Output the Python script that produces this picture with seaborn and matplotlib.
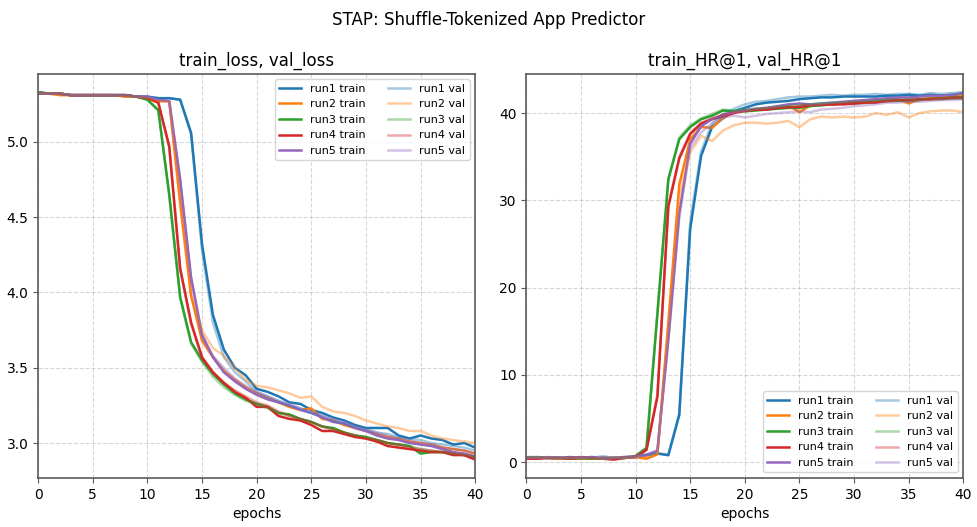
#
#------------------------------------------------------------------------#
# Import required modules
import numpy as np
import pandas as pd
import seaborn as sns
import matplotlib
matplotlib.use("Agg")
import matplotlib.pyplot as plt
#
#------------------------------------------------------------------------#
# Data
epochs = list(range(41))
runNames = ["run1", "run2", "run3", "run4", "run5"]
#
run1TrainLoss = [5.33, 5.32, 5.32, 5.31, 5.31, 5.31, 5.31, 5.31, 5.31, 5.30,
                 5.30, 5.29, 5.29, 5.28, 5.06, 4.32, 3.85, 3.62, 3.50, 3.45,
                 3.36, 3.34, 3.31, 3.27, 3.26, 3.22, 3.20, 3.17, 3.15, 3.12,
                 3.10, 3.10, 3.10, 3.05, 3.03, 3.05, 3.03, 3.02, 2.99, 3.00, 2.97]
run2TrainLoss = [5.32, 5.32, 5.31, 5.31, 5.31, 5.31, 5.31, 5.31, 5.30, 5.30,
                 5.29, 5.27, 5.27, 4.60, 3.98, 3.68, 3.57, 3.48, 3.42, 3.37,
                 3.33, 3.30, 3.27, 3.24, 3.22, 3.23, 3.16, 3.15, 3.12, 3.10,
                 3.08, 3.06, 3.04, 3.03, 3.01, 3.00, 2.99, 2.97, 2.96, 2.95, 2.93]
run3TrainLoss = [5.33, 5.32, 5.32, 5.31, 5.31, 5.31, 5.31, 5.31, 5.31, 5.30,
                 5.28, 5.21, 4.65, 3.97, 3.67, 3.55, 3.46, 3.39, 3.33, 3.29,
                 3.26, 3.24, 3.20, 3.19, 3.16, 3.14, 3.11, 3.10, 3.07, 3.05,
                 3.04, 3.02, 3.00, 2.99, 2.98, 2.93, 2.94, 2.94, 2.93, 2.92, 2.90]
run4TrainLoss = [5.32, 5.32, 5.32, 5.31, 5.31, 5.31, 5.31, 5.31, 5.31, 5.30,
                 5.29, 5.26, 4.97, 4.16, 3.80, 3.57, 3.47, 3.40, 3.34, 3.30,
                 3.24, 3.24, 3.18, 3.16, 3.15, 3.12, 3.08, 3.08, 3.06, 3.04,
                 3.03, 3.01, 2.98, 2.97, 2.96, 2.95, 2.94, 2.94, 2.92, 2.92, 2.89]
run5TrainLoss = [5.32, 5.32, 5.32, 5.31, 5.31, 5.31, 5.31, 5.31, 5.31, 5.30,
                 5.30, 5.28, 5.27, 4.75, 4.10, 3.72, 3.57, 3.47, 3.41, 3.36,
                 3.32, 3.29, 3.27, 3.25, 3.22, 3.20, 3.17, 3.14, 3.13, 3.10,
                 3.08, 3.05, 3.03, 3.02, 3.00, 2.99, 2.98, 2.96, 2.94, 2.93, 2.91]
#
run1ValLoss = [5.32, 5.32, 5.32, 5.31, 5.31, 5.31, 5.31, 5.31, 5.31, 5.30,
               5.30, 5.29, 5.29, 5.28, 5.05, 4.28, 3.80, 3.57, 3.47, 3.41,
               3.34, 3.31, 3.28, 3.25, 3.23, 3.20, 3.18, 3.15, 3.13, 3.11,
               3.09, 3.07, 3.06, 3.04, 3.03, 3.02, 3.00, 2.99, 2.98, 2.97, 2.95]
run2ValLoss = [5.32, 5.32, 5.32, 5.31, 5.31, 5.31, 5.31, 5.31, 5.30, 5.30,
               5.29, 5.27, 5.27, 4.58, 3.97, 3.75, 3.63, 3.58, 3.50, 3.42,
               3.38, 3.37, 3.35, 3.33, 3.30, 3.31, 3.24, 3.21, 3.20, 3.18,
               3.15, 3.13, 3.11, 3.10, 3.08, 3.08, 3.05, 3.03, 3.02, 3.01, 3.00]
run3ValLoss = [5.32, 5.32, 5.32, 5.31, 5.31, 5.31, 5.31, 5.31, 5.31, 5.30,
               5.28, 5.21, 4.64, 3.96, 3.66, 3.54, 3.44, 3.37, 3.32, 3.28,
               3.26, 3.23, 3.20, 3.18, 3.16, 3.14, 3.11, 3.09, 3.07, 3.05,
               3.04, 3.02, 3.00, 2.99, 2.98, 2.96, 2.95, 2.94, 2.93, 2.92, 2.91]
run4ValLoss = [5.32, 5.32, 5.32, 5.31, 5.31, 5.31, 5.31, 5.31, 5.31, 5.30,
               5.29, 5.26, 4.96, 4.15, 3.79, 3.56, 3.47, 3.40, 3.35, 3.31,
               3.27, 3.25, 3.21, 3.18, 3.16, 3.14, 3.11, 3.09, 3.07, 3.05,
               3.03, 3.02, 3.00, 2.99, 2.97, 2.96, 2.95, 2.94, 2.93, 2.92, 2.91]
run5ValLoss = [5.32, 5.32, 5.32, 5.31, 5.31, 5.31, 5.31, 5.31, 5.31, 5.30,
               5.30, 5.28, 5.27, 4.74, 4.08, 3.70, 3.58, 3.50, 3.43, 3.38,
               3.34, 3.31, 3.28, 3.26, 3.23, 3.21, 3.18, 3.16, 3.14, 3.11,
               3.09, 3.07, 3.05, 3.03, 3.02, 3.00, 2.99, 2.97, 2.96, 2.95, 2.93]
#
run1TrainHR = [0.5, 0.5, 0.5, 0.4, 0.4, 0.5, 0.4, 0.5, 0.5, 0.5,
               0.6, 0.8, 1.0, 0.8, 5.4, 26.7, 35.1, 38.4, 39.4, 40.2,
               40.6, 41.0, 41.2, 41.3, 41.4, 41.6, 41.7, 41.8, 41.8, 41.9,
               41.9, 41.9, 41.9, 42.0, 42.0, 42.1, 42.0, 42.1, 42.0, 42.1, 42.0]
run2TrainHR = [0.4, 0.5, 0.5, 0.4, 0.5, 0.4, 0.5, 0.4, 0.5, 0.5,
               0.6, 0.4, 0.9, 16.0, 31.8, 37.0, 38.4, 38.3, 39.5, 40.1,
               40.3, 40.4, 40.5, 40.6, 40.9, 40.1, 40.9, 41.0, 41.0, 41.1,
               41.2, 41.3, 41.4, 41.5, 41.6, 41.1, 41.6, 41.7, 41.8, 41.8, 42.0]
run3TrainHR = [0.5, 0.5, 0.5, 0.5, 0.4, 0.5, 0.4, 0.5, 0.4, 0.5,
               0.7, 1.6, 17.0, 32.4, 37.0, 38.4, 39.3, 39.7, 40.3, 40.2,
               40.2, 40.3, 40.4, 40.5, 40.6, 40.6, 40.8, 40.9, 41.0, 41.1,
               41.1, 41.2, 41.3, 41.4, 41.4, 41.4, 41.5, 41.6, 41.6, 41.7, 41.7]
run4TrainHR = [0.4, 0.4, 0.5, 0.5, 0.4, 0.5, 0.5, 0.4, 0.3, 0.5,
               0.6, 1.4, 7.5, 29.3, 34.8, 37.6, 38.8, 39.3, 39.6, 40.0,
               40.3, 40.4, 40.4, 40.6, 40.7, 40.7, 40.9, 41.0, 41.0, 41.0,
               41.1, 41.2, 41.2, 41.4, 41.5, 41.5, 41.6, 41.6, 41.7, 41.8, 41.8]
run5TrainHR = [0.5, 0.5, 0.5, 0.5, 0.6, 0.5, 0.6, 0.4, 0.5, 0.5,
               0.6, 0.8, 1.3, 14.0, 28.5, 36.5, 38.5, 39.3, 39.8, 40.1,
               40.3, 40.5, 40.6, 40.8, 41.0, 41.1, 41.0, 41.1, 41.2, 41.3,
               41.4, 41.5, 41.6, 41.7, 41.8, 41.8, 41.9, 42.0, 42.0, 42.1, 42.3]
#
run1ValHR = [0.6, 0.6, 0.5, 0.5, 0.5, 0.6, 0.5, 0.7, 0.5, 0.6,
             0.7, 0.9, 1.0, 0.9, 5.6, 27.5, 35.6, 38.8, 39.9, 40.5,
             41.0, 41.3, 41.4, 41.6, 41.8, 41.9, 41.9, 42.0, 42.1, 42.0,
             42.1, 42.1, 42.2, 42.1, 42.2, 42.2, 42.1, 42.3, 42.2, 42.3, 42.4]
run2ValHR = [0.5, 0.5, 0.5, 0.4, 0.5, 0.5, 0.4, 0.5, 0.5, 0.5,
             0.6, 0.5, 1.0, 15.5, 30.5, 35.5, 37.4, 36.8, 38.0, 38.6,
             38.9, 38.9, 38.8, 38.9, 39.1, 38.4, 39.3, 39.6, 39.5, 39.6,
             39.5, 39.6, 40.0, 39.8, 40.1, 39.5, 40.0, 40.2, 40.3, 40.3, 40.1]
run3ValHR = [0.5, 0.6, 0.5, 0.5, 0.5, 0.4, 0.5, 0.4, 0.5, 0.5,
             0.7, 1.7, 17.2, 32.5, 37.2, 38.6, 39.4, 39.9, 40.4, 40.3,
             40.4, 40.5, 40.6, 40.7, 40.8, 40.9, 41.0, 41.1, 41.2, 41.2,
             41.3, 41.3, 41.4, 41.5, 41.5, 41.6, 41.6, 41.7, 41.7, 41.8, 41.8]
run4ValHR = [0.5, 0.5, 0.5, 0.5, 0.5, 0.6, 0.5, 0.5, 0.4, 0.6,
             0.7, 1.5, 7.8, 29.4, 35.0, 37.7, 38.9, 39.4, 39.8, 40.1,
             40.2, 40.4, 40.5, 40.6, 40.6, 40.8, 40.9, 40.9, 41.0, 41.1,
             41.2, 41.2, 41.3, 41.3, 41.4, 41.5, 41.5, 41.6, 41.6, 41.7, 41.7]
run5ValHR = [0.5, 0.5, 0.6, 0.5, 0.5, 0.5, 0.6, 0.5, 0.5, 0.6,
             0.7, 0.9, 1.4, 14.2, 28.0, 36.0, 37.8, 38.8, 39.5, 39.7,
             39.5, 39.7, 39.9, 40.0, 40.1, 40.2, 40.1, 40.4, 40.5, 40.6,
             40.8, 40.9, 41.0, 41.2, 41.2, 41.3, 41.3, 41.4, 41.5, 41.5, 41.6]
#
trainLoss = [run1TrainLoss, run2TrainLoss, run3TrainLoss, run4TrainLoss, run5TrainLoss]
valLoss = [run1ValLoss, run2ValLoss, run3ValLoss, run4ValLoss, run5ValLoss]
trainHR = [run1TrainHR, run2TrainHR, run3TrainHR, run4TrainHR, run5TrainHR]
valHR = [run1ValHR, run2ValHR, run3ValHR, run4ValHR, run5ValHR]
#
#------------------------------------------------------------------------#
# Plot
colors = sns.color_palette("tab10", 5)
spineColor = "#5a5a5a"
fig, axes = plt.subplots(1, 2, figsize=(9.78, 5.27), dpi=100)
fig.subplots_adjust(left=0.039, right=0.985, top=0.86, bottom=0.093, wspace=0.117)
#
panels = [(axes[0], trainLoss, valLoss, "train_loss, val_loss", "upper right"),
          (axes[1], trainHR, valHR, "train_HR@1, val_HR@1", "lower right")]
for ax, trainSet, valSet, title, legLoc in panels:
    # train lines first, val lines second -> two legend columns
    for i, name in enumerate(runNames):
        sns.lineplot(x=epochs, y=trainSet[i], color=colors[i], linewidth=1.8,
                     label=name + " train", ax=ax)
    for i, name in enumerate(runNames):
        sns.lineplot(x=epochs, y=valSet[i], color=colors[i], linewidth=1.8,
                     alpha=0.4, label=name + " val", ax=ax)
    ax.set_xlim(0, 40)
    ax.set_xlabel("epochs")
    ax.set_title(title, fontsize=12)
    ax.grid(True, linestyle="--", color="#b0b0b0", alpha=0.5)
    ax.legend(loc=legLoc, ncol=2, fontsize=8)
    for spine in ax.spines.values():
        spine.set_color(spineColor)
        spine.set_linewidth(1.2)
    ax.tick_params(color=spineColor)
#
axes[0].set_yticks([3.0, 3.5, 4.0, 4.5, 5.0])
fig.suptitle("STAP: Shuffle-Tokenized App Predictor", fontsize=12)
fig.savefig("out.png")
